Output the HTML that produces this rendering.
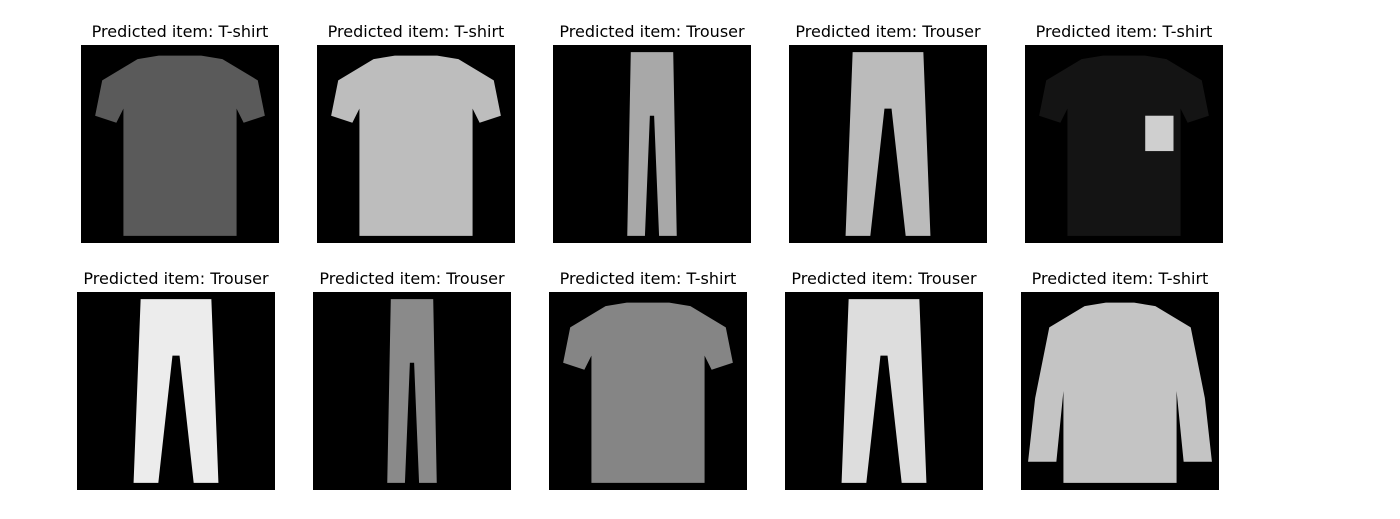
<!DOCTYPE html>
<html><head><meta charset="utf-8"><style>
body{margin:0;width:1400px;height:519px;background:#fff;font-family:"DejaVu Sans","Liberation Sans",sans-serif;overflow:hidden;position:relative}
.t{position:absolute;font-size:16px;color:#000;text-align:center;width:260px;white-space:nowrap}
svg.im{position:absolute;width:198px;height:198px;background:#000}
</style></head><body>
<div id="root"></div>
<script>
const labels=["T-shirt","T-shirt","Trouser","Trouser","T-shirt","Trouser","Trouser","T-shirt","Trouser","T-shirt"];
const shades=["#5a5a5a","#bdbdbd","#a8a8a8","#bbbbbb","#141414","#ececec","#8a8a8a","#858585","#dddddd","#c4c4c4"];
const xs1=[81,317,553,789,1025], xs2=[77,313,549,785,1021];
const shapes={
 tshirt:"8,2 11,1.5 17,1.5 20,2 25,5 26,10 23,11 22,9 22,27 6,27 6,9 5,11 2,10 3,5",
 trouser:"9,1 19,1 20,27 16.5,27 14.5,9 13.5,9 11.5,27 8,27",
 narrow:"11,1 17,1 17.5,27 15,27 14.3,10 13.7,10 13,27 10.5,27",
 long:"9,2 12,1.5 16,1.5 19,2 24,5 26,15 27,24 23,24 22,14 22,27 6,27 6,14 5,24 1,24 2,15 4,5"
};
const kind=["tshirt","tshirt","narrow","trouser","tshirt","trouser","narrow","tshirt","trouser","long"];
const root=document.getElementById('root');
const ns="http://www.w3.org/2000/svg";
labels.forEach((lab,i)=>{
 const row=i<5?0:1, c=i%5;
 const x=row?xs2[c]:xs1[c], y=row?292:45;
 const t=document.createElement('div');
 t.className='t';
 
 
 t.style.left=(x+99-130)+'px';t.style.top=(y-23)+'px';
 t.textContent='Predicted item: '+lab;
 root.appendChild(t);
 const s=document.createElementNS(ns,'svg');
 s.setAttribute('class','im');
 s.setAttribute('viewBox','0 0 28 28');
 
 
 s.style.left=x+'px';s.style.top=y+'px';
 const p=document.createElementNS(ns,'polygon');
 p.setAttribute('points',shapes[kind[i]]);
 p.setAttribute('fill',shades[i]);
 
 
 s.appendChild(p);
 if(i===4){const r=document.createElementNS(ns,'rect');r.setAttribute('x',17);r.setAttribute('y',10);r.setAttribute('width',4);r.setAttribute('height',5);r.setAttribute('fill','#cfcfcf');
 
 
 s.appendChild(r);}
 root.appendChild(s);
});
</script>
</body></html>
